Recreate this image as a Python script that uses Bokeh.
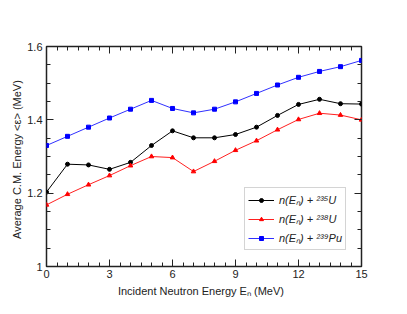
from bokeh.plotting import figure
from bokeh.models import (LinearAxis, FixedTicker, CustomJSTickFormatter, Legend,
                          LegendItem, Range1d)
from bokeh.embed import file_html
from bokeh.resources import INLINE

energy = [0, 1, 2, 3, 4, 5, 6, 7, 8, 9, 10, 11, 12, 13, 14, 15]
u235 = [1.203, 1.279, 1.277, 1.265, 1.284, 1.330, 1.370, 1.351, 1.351, 1.360,
        1.380, 1.412, 1.442, 1.456, 1.444, 1.443]
u238 = [1.168, 1.197, 1.223, 1.248, 1.275, 1.300, 1.297, 1.259, 1.287, 1.317,
        1.343, 1.373, 1.401, 1.418, 1.413, 1.400]
pu239 = [1.330, 1.355, 1.380, 1.405, 1.429, 1.453, 1.431, 1.419, 1.429, 1.449,
         1.472, 1.495, 1.516, 1.532, 1.545, 1.562]

x_major = [0, 3, 6, 9, 12, 15]
x_minor = [i * 0.5 for i in range(31)]
y_major = [1.0, 1.2, 1.4, 1.6]
y_minor = [1.0 + i * 0.05 for i in range(13)]

FONT = "Liberation Sans"

p = figure(frame_width=315, frame_height=220, output_backend="svg",
           toolbar_location=None, x_range=Range1d(0, 15), y_range=Range1d(1.0, 1.6),
           min_border_left=46, min_border_top=46, min_border_right=28,
           min_border_bottom=32, x_axis_type=None, y_axis_type=None)
p.xgrid.visible = False
p.ygrid.visible = False
p.outline_line_color = "#222222"
p.outline_line_width = 1.5
p.background_fill_color = "white"
p.border_fill_color = "white"

def style(ax, labels=True):
    ax.axis_line_color = None
    ax.major_tick_in = 7
    ax.major_tick_out = 0
    ax.minor_tick_in = 4
    ax.minor_tick_out = 0
    ax.major_tick_line_color = "#222222"
    ax.minor_tick_line_color = "#222222"
    ax.major_label_text_font = FONT
    ax.major_label_text_font_size = "11px"
    ax.major_label_text_color = "#222222" if labels else None
    ax.axis_label_text_font = FONT
    ax.axis_label_text_font_size = "11px"
    ax.axis_label_text_font_style = "normal"
    ax.axis_label_text_color = "#222222"

xt = FixedTicker(ticks=x_major, minor_ticks=x_minor)
yt = FixedTicker(ticks=y_major, minor_ticks=y_minor)
yfmt = CustomJSTickFormatter(code="return tick == 1 ? '1' : tick.toFixed(1);")

xb = LinearAxis(ticker=xt, axis_label="Incident Neutron Energy  E\u2099  (MeV)")
style(xb)
xb.major_label_standoff = 3
xb.axis_label_standoff = 4
p.add_layout(xb, "below")

xa = LinearAxis(ticker=xt)
style(xa, labels=False)
p.add_layout(xa, "above")

yl = LinearAxis(ticker=yt, formatter=yfmt,
                axis_label="Average C.M. Energy  <\u03b5>  (MeV)")
style(yl)
yl.major_label_standoff = 4
yl.axis_label_standoff = 1
p.add_layout(yl, "left")

yr = LinearAxis(ticker=yt, formatter=yfmt)
style(yr, labels=False)
p.add_layout(yr, "right")

l1 = p.line(energy, u235, line_color="black", line_width=1)
m1 = p.scatter(energy, u235, marker="circle", size=4, fill_color="black", line_color="black")
l2 = p.line(energy, u238, line_color="#ff2020", line_width=1)
m2 = p.scatter(energy, u238, marker="triangle", size=4.5, fill_color="red", line_color="red")
l3 = p.line(energy, pu239, line_color="#3030ff", line_width=1)
m3 = p.scatter(energy, pu239, marker="square", size=4, fill_color="blue", line_color="blue")

legend = Legend(items=[
    LegendItem(label="n(E\u2099) + \u00b2\u00b3\u2075U", renderers=[l1, m1]),
    LegendItem(label="n(E\u2099) + \u00b2\u00b3\u2078U", renderers=[l2, m2]),
    LegendItem(label="n(E\u2099) + \u00b2\u00b3\u2079Pu", renderers=[l3, m3]),
], location=(198, 16))
legend.border_line_color = "#aaaaaa"
legend.border_line_width = 1
legend.label_text_font = FONT
legend.label_text_font_size = "11px"
legend.label_text_font_style = "italic"
legend.label_text_color = "#222222"
legend.glyph_width = 26
legend.glyph_height = 10
legend.label_height = 17
legend.spacing = 2
legend.padding = 3
legend.margin = 0
legend.label_standoff = 5
legend.background_fill_alpha = 1
p.add_layout(legend, "center")

open("out.html", "w").write(file_html(p, INLINE))
